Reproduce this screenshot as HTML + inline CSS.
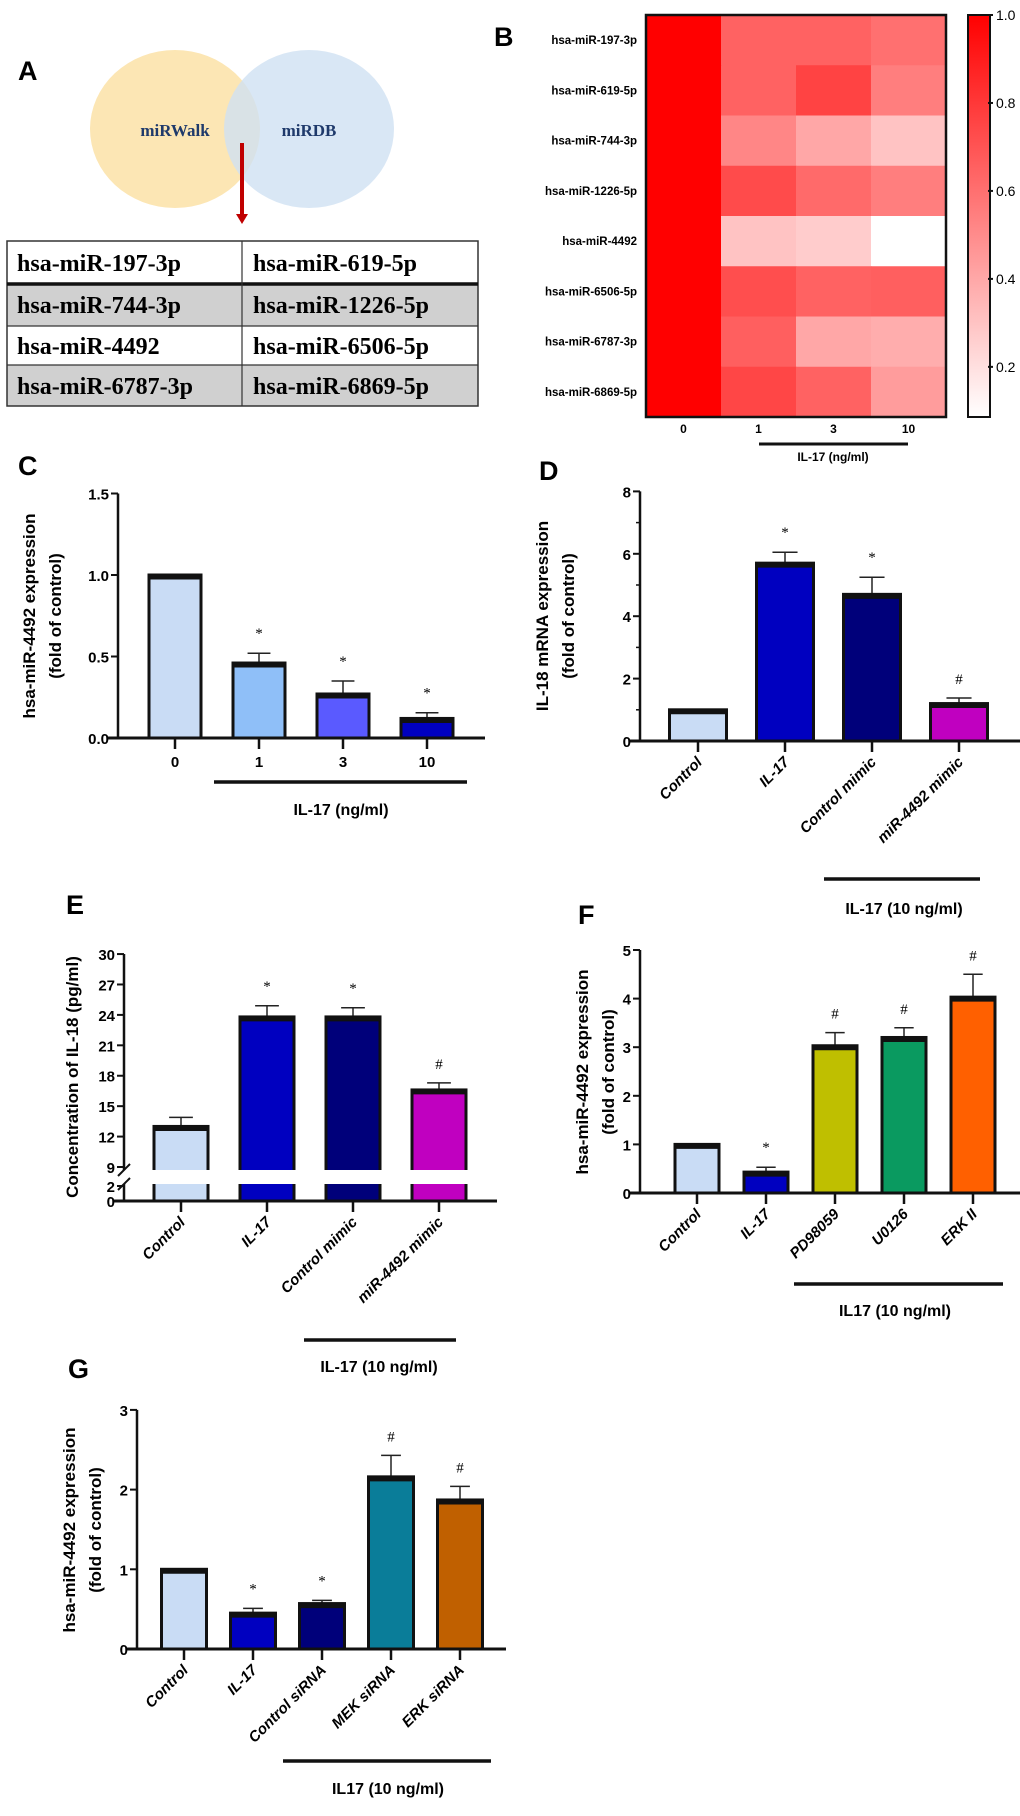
<!DOCTYPE html>
<html><head><meta charset="utf-8"><style>
html,body{margin:0;padding:0;background:#fff;}
svg{display:block;font-family:"Liberation Sans",sans-serif;}
.tick{font-size:15px;font-weight:bold;}
.xl{font-size:15px;font-weight:bold;font-style:italic;}
.yt{font-size:17px;font-weight:bold;}
.pl{font-size:27px;font-weight:bold;}
.mk{font-size:15px;font-family:"Liberation Serif",serif;}
</style></head><body>
<svg id="fig" width="1020" height="1816" viewBox="0 0 1020 1816" xmlns="http://www.w3.org/2000/svg">
<rect width="1020" height="1816" fill="#fff"/>
<!-- Panel A -->
<g>
<text x="18" y="80" class="pl">A</text>
<ellipse cx="175" cy="129" rx="85" ry="79" fill="#fce6b4"/>
<ellipse cx="309" cy="129" rx="85" ry="79" fill="#cfe1f3" fill-opacity="0.8"/>
<text x="175" y="136" text-anchor="middle" font-family="Liberation Serif,serif" font-weight="bold" font-size="17" fill="#1f3a6b">miRWalk</text>
<text x="309" y="136" text-anchor="middle" font-family="Liberation Serif,serif" font-weight="bold" font-size="17" fill="#1f3a6b">miRDB</text>
<line x1="242" y1="143" x2="242" y2="216" stroke="#c00000" stroke-width="4"/>
<polygon points="236,214 248,214 242,224" fill="#c00000"/>
<g font-family="Liberation Serif,serif" font-weight="bold" font-size="24">
<rect x="7" y="284" width="471" height="42" fill="#d0d0d0"/>
<rect x="7" y="365" width="471" height="41" fill="#d0d0d0"/>
<rect x="7" y="241" width="471" height="165" fill="none" stroke="#333" stroke-width="1.5"/>
<line x1="7" y1="284" x2="478" y2="284" stroke="#111" stroke-width="3.5"/>
<line x1="7" y1="326" x2="478" y2="326" stroke="#333" stroke-width="1.2"/>
<line x1="7" y1="365" x2="478" y2="365" stroke="#333" stroke-width="1.2"/>
<line x1="242" y1="241" x2="242" y2="406" stroke="#333" stroke-width="1.2"/>
<text x="17" y="271">hsa-miR-197-3p</text>
<text x="253" y="271">hsa-miR-619-5p</text>
<text x="17" y="313">hsa-miR-744-3p</text>
<text x="253" y="313">hsa-miR-1226-5p</text>
<text x="17" y="354">hsa-miR-4492</text>
<text x="253" y="354">hsa-miR-6506-5p</text>
<text x="17" y="394">hsa-miR-6787-3p</text>
<text x="253" y="394">hsa-miR-6869-5p</text>
</g>
</g>
<!-- Panel B -->
<g id="pb">
<text x="494" y="46" class="pl">B</text>
<defs><linearGradient id="cbg" x1="0" y1="0" x2="0" y2="1"><stop offset="0" stop-color="#ff0000"/><stop offset="1" stop-color="#ffffff"/></linearGradient></defs>
<rect x="968" y="15" width="22" height="402" fill="url(#cbg)" stroke="#111" stroke-width="2"/>
<line x1="759" y1="444" x2="908" y2="444" stroke="#111" stroke-width="3"/>
<text x="833" y="461" text-anchor="middle" font-size="12" font-weight="bold">IL-17 (ng/ml)</text>
</g>
<!-- Panel labels and titles for bar charts -->
<text x="18" y="475" class="pl">C</text>
<text x="539" y="480" class="pl">D</text>
<text x="66" y="914" class="pl">E</text>
<text x="578" y="924" class="pl">F</text>
<text x="68" y="1378" class="pl">G</text>
<g class="yt" text-anchor="middle">
<text transform="translate(35,616) rotate(-90)">hsa-miR-4492 expression</text>
<text transform="translate(61,616) rotate(-90)">(fold of control)</text>
<text transform="translate(548,616) rotate(-90)">IL-18 mRNA expression</text>
<text transform="translate(574,616) rotate(-90)">(fold of control)</text>
<text transform="translate(78,1077) rotate(-90)">Concentration of IL-18 (pg/ml)</text>
<text transform="translate(588,1072) rotate(-90)">hsa-miR-4492 expression</text>
<text transform="translate(614,1072) rotate(-90)">(fold of control)</text>
<text transform="translate(75,1530) rotate(-90)">hsa-miR-4492 expression</text>
<text transform="translate(101,1530) rotate(-90)">(fold of control)</text>
</g>
<g font-size="16" font-weight="bold" text-anchor="middle">
<line x1="214" y1="782" x2="467" y2="782" stroke="#111" stroke-width="3.5"/>
<text x="341" y="815">IL-17 (ng/ml)</text>
<line x1="824" y1="879" x2="980" y2="879" stroke="#111" stroke-width="3.5"/>
<text x="904" y="914">IL-17 (10 ng/ml)</text>
<line x1="304" y1="1340" x2="456" y2="1340" stroke="#111" stroke-width="3.5"/>
<text x="379" y="1372">IL-17 (10 ng/ml)</text>
<line x1="794" y1="1284" x2="1003" y2="1284" stroke="#111" stroke-width="3.5"/>
<text x="895" y="1316">IL17 (10 ng/ml)</text>
<line x1="283" y1="1761" x2="491" y2="1761" stroke="#111" stroke-width="3.5"/>
<text x="388" y="1794">IL17 (10 ng/ml)</text>
</g>
<g id="charts"></g>
</svg>
<script>
// ---- Heatmap data ----
const hmRows = ["hsa-miR-197-3p","hsa-miR-619-5p","hsa-miR-744-3p","hsa-miR-1226-5p","hsa-miR-4492","hsa-miR-6506-5p","hsa-miR-6787-3p","hsa-miR-6869-5p"];
const hmCols = ["0","1","3","10"];
const hmValues = [
 [1,0.65,0.65,0.60],
 [1,0.65,0.76,0.55],
 [1,0.52,0.40,0.30],
 [1,0.73,0.62,0.55],
 [1,0.30,0.27,0.086],
 [1,0.72,0.65,0.66],
 [1,0.66,0.40,0.38],
 [1,0.75,0.65,0.44]];
const cbTicks = [0.2,0.4,0.6,0.8,1.0];
// ---- Panel C ----
const cCats = ["0","1","3","10"];
const cVals = [1.0,0.46,0.27,0.12];
const cErr = [1.0,0.52,0.35,0.155];
const cMarks = ["","*","*","*"];
const cTicks = [0,0.5,1.0,1.5];
// ---- Panel D ----
const dCats = ["Control","IL-17","Control mimic","miR-4492 mimic"];
const dVals = [1.0,5.7,4.7,1.2];
const dErr = [1.0,6.05,5.25,1.38];
const dMarks = ["","*","*","#"];
const dTicks = [0,2,4,6,8];
// ---- Panel E ----
const eCats = ["Control","IL-17","Control mimic","miR-4492 mimic"];
const eVals = [13.0,23.8,23.8,16.6];
const eErr = [13.9,24.9,24.7,17.3];
const eMarks = ["","*","*","#"];
const eTicks = [0,2,9,12,15,18,21,24,27,30];
// ---- Panel F ----
const fCats = ["Control","IL-17","PD98059","U0126","ERK II"];
const fVals = [1.0,0.43,3.03,3.2,4.03];
const fErr = [1.0,0.53,3.3,3.4,4.5];
const fMarks = ["","*","#","#","#"];
const fTicks = [0,1,2,3,4,5];
// ---- Panel G ----
const gCats = ["Control","IL-17","Control siRNA","MEK siRNA","ERK siRNA"];
const gVals = [1.0,0.45,0.57,2.16,1.87];
const gErr = [1.0,0.51,0.61,2.43,2.04];
const gMarks = ["","*","*","#","#"];
const gTicks = [0,1,2,3];

const NS = "http://www.w3.org/2000/svg";
const root = document.getElementById("charts");
function mk(tag, attrs, parent){
  const e = document.createElementNS(NS, tag);
  for (const k in attrs) e.setAttribute(k, attrs[k]);
  (parent||root).appendChild(e);
  return e;
}
// Heatmap
(function(){
  const pb = document.getElementById("pb");
  const x0=646,y0=15,W=300,H=402,cw=W/hmCols.length,rh=H/hmRows.length,vmin=0.086;
  const col = v => { const t=Math.max(0,Math.min(1,(v-vmin)/(1-vmin))); const g=Math.round(255*(1-t)); return `rgb(255,${g},${g})`; };
  const cy = v => y0 + (1-v)/(1-vmin)*H;
  hmRows.forEach((r,i)=>{
    hmCols.forEach((c,j)=>{
      const cell = mk("rect",{x:x0+j*cw,y:y0+i*rh,width:cw+0.5,height:rh+0.5,fill:col(hmValues[i][j])},pb);
      
      
    });
    const t = mk("text",{x:637,y:y0+(i+0.5)*rh+4,"text-anchor":"end","font-size":"11.5","font-weight":"bold"},pb);
    t.textContent = r;
    
    
  });
  const fr = mk("rect",{x:x0,y:y0,width:W,height:H,fill:"none",stroke:"#111","stroke-width":"2.5"},pb);
  
  
  hmCols.forEach((c,j)=>{
    const t = mk("text",{x:x0+(j+0.5)*cw,y:433,"text-anchor":"middle","font-size":"12","font-weight":"bold"},pb);
    t.textContent = c;
    
    
  });
  cbTicks.forEach(v=>{
    const y = cy(v);
    const l = mk("line",{x1:988,y1:y,x2:993,y2:y,stroke:"#111","stroke-width":"2"},pb);
    
    
    const t = mk("text",{x:996,y:y+5,"font-size":"14"},pb);
    t.textContent = v.toFixed(1);
    
    
  });
})();

function barChart(o){
  const g = mk("g",{});
  
  
  const base = o.y(0);
  // bars
  o.cats.forEach((c,i)=>{
    const cx = o.x0 + i*o.step, w=o.bw, yv=o.y(o.vals[i]);
    if (o.errs[i] > o.vals[i]) {
      const ye=o.y(o.errs[i]);
      const el = mk("line",{x1:cx,y1:yv,x2:cx,y2:ye,stroke:"#222","stroke-width":"1.5"},g);
      
      
      const ec = mk("line",{x1:cx-w*0.22,y1:ye,x2:cx+w*0.22,y2:ye,stroke:"#222","stroke-width":"1.5"},g);
      
      
    }
    const r = mk("rect",{x:cx-w/2,y:yv,width:w,height:base-yv,fill:o.colors[i],stroke:"#111","stroke-width":"3"},g);
    
    
    const tp = mk("line",{x1:cx-w/2,y1:yv+2,x2:cx+w/2,y2:yv+2,stroke:"#111","stroke-width":"5"},g);
    
    
    if (o.marks[i]) {
      const m = mk("text",{x:cx,y:o.y(o.errs[i])-(o.marks[i]=="*"?15:14),"text-anchor":"middle",class:"mk"},g);
      m.textContent = o.marks[i];
      
      
    }
    const tk = mk("line",{x1:cx,y1:base,x2:cx,y2:base+11,stroke:"#111","stroke-width":"2.5"},g);
    
    
    let lab;
    if (o.rot) {
      lab = mk("text",{transform:`translate(${cx+5},${base+22}) rotate(-45)`,"text-anchor":"end",class:"xl"},g);
    } else {
      lab = mk("text",{x:cx,y:base+29,"text-anchor":"middle",class:"tick","font-size":"17"},g);
    }
    lab.textContent = c;
    
    
  });
  if (o.gap) {
    const gp = mk("rect",{x:o.ax+2,y:o.gap[0],width:o.xend-o.ax,height:o.gap[1]-o.gap[0],fill:"#fff"},g);
    
    
    [o.gap[0],o.gap[1]].forEach(yy=>{
      const bm = mk("line",{x1:o.ax-6,y1:yy+6,x2:o.ax+6,y2:yy-6,stroke:"#111","stroke-width":"2"},g);
      
      
    });
  }
  // axes
  const topY = o.y(o.ticks[o.ticks.length-1]);
  if (o.gap) {
    const a1 = mk("line",{x1:o.ax,y1:topY,x2:o.ax,y2:o.gap[0],stroke:"#111","stroke-width":"2.5"},g);
    
    
    const a2 = mk("line",{x1:o.ax,y1:o.gap[1],x2:o.ax,y2:base,stroke:"#111","stroke-width":"2.5"},g);
    
    
  } else {
    const a = mk("line",{x1:o.ax,y1:topY,x2:o.ax,y2:base,stroke:"#111","stroke-width":"2.5"},g);
    
    
  }
  const xa = mk("line",{x1:o.ax-10,y1:base,x2:o.xend,y2:base,stroke:"#111","stroke-width":"3"},g);
  
  
  o.ticks.forEach(v=>{
    const y=o.y(v);
    const t = mk("line",{x1:o.ax-7,y1:y,x2:o.ax,y2:y,stroke:"#111","stroke-width":"2"},g);
    
    
    const tl = mk("text",{x:o.ax-9,y:y+6,"text-anchor":"end",class:"tick","font-size":"17"},g);
    tl.textContent = o.fmt ? o.fmt(v) : String(v);
    
    
  });
  (o.minor||[]).forEach(v=>{
    const y=o.y(v);
    const t = mk("line",{x1:o.ax-4,y1:y,x2:o.ax,y2:y,stroke:"#111","stroke-width":"1.5"},g);
    
    
  });
}
const LB="#c9dcf5", BL="#0000c0", NV="#00007a", MG="#c000c0";
barChart({name:"panel-c-chart",cats:cCats,vals:cVals,errs:cErr,marks:cMarks,ticks:cTicks,fmt:v=>v.toFixed(1),
  colors:[LB,"#8fbff8","#5a5aff",BL],x0:175,step:84,bw:52,ax:118,xend:485,y:v=>738-v*163,rot:false});
barChart({name:"panel-d-chart",cats:dCats,vals:dVals,errs:dErr,marks:dMarks,ticks:dTicks,minor:[1,3,5,7],
  colors:[LB,BL,NV,MG],x0:698,step:87,bw:57,ax:640,xend:1020,y:v=>741-v*31.2,rot:true});
barChart({name:"panel-e-chart",cats:eCats,vals:eVals,errs:eErr,marks:eMarks,ticks:eTicks,
  colors:[LB,BL,NV,MG],x0:181,step:86,bw:54,ax:124,xend:497,
  y:v=> v<=2 ? 1201-v*7.5 : 1167-(v-9)*10.14, gap:[1170,1184],rot:true});
barChart({name:"panel-f-chart",cats:fCats,vals:fVals,errs:fErr,marks:fMarks,ticks:fTicks,
  colors:[LB,BL,"#bfbf00","#0a9a60","#ff6000"],x0:697,step:69,bw:44,ax:640,xend:1020,y:v=>1193-v*48.6,rot:true});
barChart({name:"panel-g-chart",cats:gCats,vals:gVals,errs:gErr,marks:gMarks,ticks:gTicks,
  colors:[LB,BL,NV,"#0a7d99","#c06000"],x0:184,step:69,bw:45,ax:137,xend:506,y:v=>1649-v*79.7,rot:true});
</script>
</body></html>
